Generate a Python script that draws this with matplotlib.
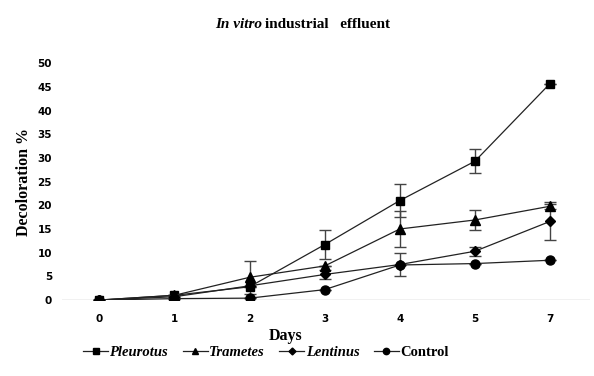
import matplotlib
matplotlib.use("Agg")
import matplotlib.pyplot as plt

days = ["0", "1", "2", "3", "4", "5", "7"]
pleurotus = [0, 1.0, 2.8, 11.7, 21.0, 29.3, 45.7]
pleurotus_err = [0, 0, 0, 3.0, 3.4, 2.5, 0]
trametes = [0, 1.0, 4.8, 7.2, 15.0, 16.9, 19.8]
trametes_err = [0, 0, 3.5, 0, 3.8, 2.2, 0.5]
lentinus = [0, 0.7, 3.0, 5.4, 7.5, 10.3, 16.6]
lentinus_err = [0, 0, 0, 1.0, 2.4, 1.0, 4.0]
control = [0, 0.3, 0.4, 2.2, 7.4, 7.7, 8.4]
control_err = [0, 0, 0, 0, 0, 0, 0]

serif = "Liberation Serif"

fig = plt.figure(figsize=(5.94, 3.76), dpi=100)
ax = fig.add_axes([0.104, 0.202, 0.889, 0.630])

x = list(range(len(days)))
series = [
    (pleurotus, pleurotus_err, "s", 6, "Pleurotus"),
    (trametes, trametes_err, "^", 7, "Trametes"),
    (lentinus, lentinus_err, "D", 5, "Lentinus"),
    (control, control_err, "o", 6.5, "Control"),
]
handles = []
for vals, err, mk, ms, name in series:
    ax.errorbar(x, vals, yerr=err, fmt="none", ecolor="#444444", elinewidth=1,
                capsize=4, capthick=1, zorder=2)
    h, = ax.plot(x, vals, color="#222222", lw=0.9, marker=mk, ms=ms,
                 mfc="black", mec="black", zorder=3, label=name)
    handles.append(h)

ax.set_xlim(-0.5, 6.53)
ax.set_ylim(0, 50)
ax.set_yticks(range(0, 51, 5))
ax.set_xticks(x)
ax.set_xticklabels(days)
ax.axhline(0, color="#bbbbbb", lw=1, zorder=1)
for s in ax.spines.values():
    s.set_visible(False)
ax.tick_params(length=0, labelsize=7.5)
ax.tick_params(axis="x", pad=10)
ax.tick_params(axis="y", pad=7)
for lab in ax.get_xticklabels() + ax.get_yticklabels():
    lab.set_fontweight("bold")

ax.set_ylabel("Decoloration %", fontfamily=serif, fontweight="bold", fontsize=11.5, labelpad=4)
fig.text(286 / 594, 1 - 336 / 376, "Days", fontfamily=serif, fontweight="bold",
         fontsize=11.5, ha="center", va="center")

fig.text(262 / 594, 1 - 25 / 376, "In vitro", fontfamily=serif, fontweight="bold",
         fontstyle="italic", fontsize=11, ha="right", va="center")
fig.text(265 / 594, 1 - 25 / 376, "industrial   effluent", fontfamily=serif,
         fontweight="bold", fontsize=11, ha="left", va="center")

leg = fig.legend(handles=handles, loc="center", bbox_to_anchor=(266 / 594, 1 - 352 / 376),
                 ncol=4, frameon=False, handlelength=1.7, handletextpad=0.1,
                 columnspacing=1.0, markerscale=0.7,
                 prop={"family": serif, "weight": "bold", "size": 10.5})
for t in leg.get_texts()[:3]:
    t.set_fontstyle("italic")

fig.savefig("out.png", dpi=100)
